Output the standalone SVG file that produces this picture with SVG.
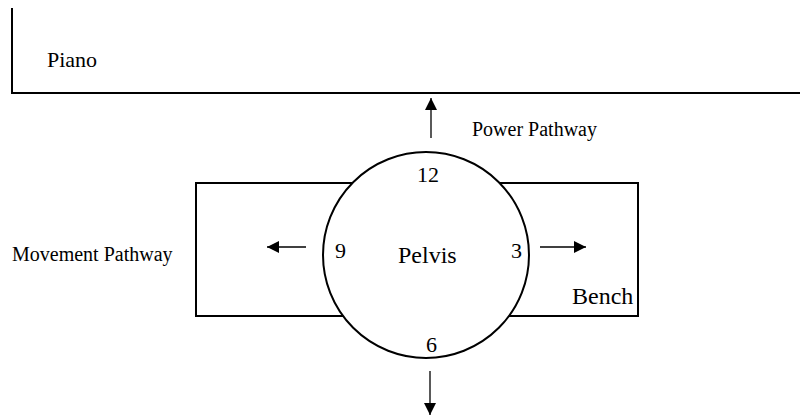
<svg xmlns="http://www.w3.org/2000/svg" width="800" height="417" viewBox="0 0 800 417">
<style>
.ln{fill:none;stroke:#000;stroke-width:2}
.sh{fill:#fff;stroke:#000;stroke-width:2}
.ar{fill:none;stroke:#000;stroke-width:1.3}
text{font-family:"Liberation Serif","Times New Roman",serif;fill:#000}
.s{font-size:20px}
.b{font-size:24px}
.n{font-size:22px}
</style>
<defs>
<marker id="ah" viewBox="0 0 10 10" refX="10" refY="5" markerWidth="14" markerHeight="12" markerUnits="userSpaceOnUse" orient="auto">
<path d="M0,0 L10,5 L0,10 Z" fill="#000"/>
</marker>
</defs>
<rect width="800" height="417" fill="#fff"/>
<g id="piano">
<path class="ln" d="M12,8 V93 H800"/>
<text class="n" x="47" y="67">Piano</text>
</g>
<g id="bench">
<rect class="sh" x="196" y="183" width="442" height="133"/>
<text class="b" x="572" y="304">Bench</text>
</g>
<g id="pelvis">
<circle class="sh" cx="426" cy="255" r="103"/>
<text class="b" x="398" y="263">Pelvis</text>
<text class="n" x="417" y="182">12</text>
<text class="n" x="335" y="258">9</text>
<text class="n" x="511" y="258">3</text>
<text class="n" x="426" y="352">6</text>
</g>
<g id="connectors">
<line class="ar" x1="431" y1="138" x2="431" y2="98" marker-end="url(#ah)"/>
<line class="ar" x1="306" y1="247" x2="267" y2="247" marker-end="url(#ah)"/>
<line class="ar" x1="540" y1="247" x2="586" y2="247" marker-end="url(#ah)"/>
<line class="ar" x1="430" y1="371" x2="430" y2="415" marker-end="url(#ah)"/>
</g>
<g id="labels">
<text class="s" x="472" y="136">Power Pathway</text>
<text class="s" x="12" y="261">Movement Pathway</text>
</g>
</svg>
